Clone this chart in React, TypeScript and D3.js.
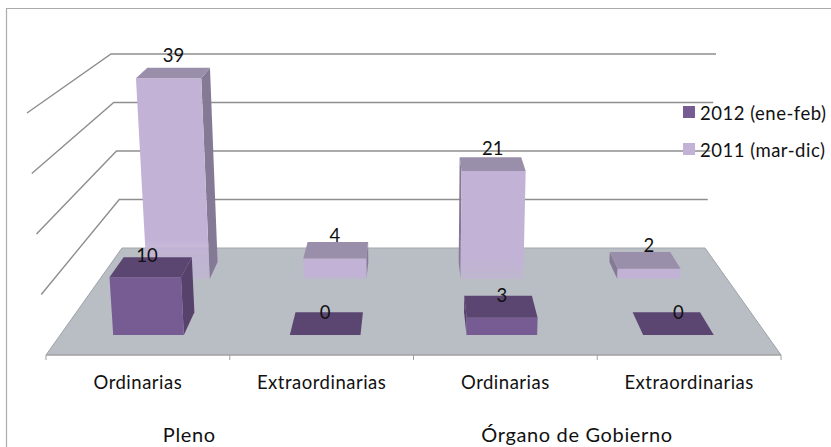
import React from "react";
import * as d3 from "d3";

const categories = ["Ordinarias", "Extraordinarias", "Ordinarias", "Extraordinarias"];
const groups = ["Pleno", "Órgano de Gobierno"];
const values2012 = [10, 0, 3, 0];
const values2011 = [39, 4, 21, 2];
const gridValues = [10, 20, 30, 40];
const legendItems = ["2012 (ene-feb)", "2011 (mar-dic)"];

const W = 831;
const H = 447;
const FONT = "Lato, Carlito, Calibri, sans-serif";
const CX = 413.5;
const GROUP_AT = [0.78, 2.89]; // label centres along the category axis

const depthY = d3.scaleLinear().domain([0, 1]).range([355, 248]);
const halfW = d3.scaleLinear().domain([0, 1]).range([367.5, 291.5]);
const spread = d3.scaleLinear().domain([0, 1]).range([0.475, 0.275]);
const invScale = d3.scaleLinear().domain([0, 1]).range([1 / 6.05, 1 / 4.85]);

// category coordinate + value + screen-depth -> pixel
function project(cat: number, v: number, t: number): [number, number] {
  const hw = halfW(t) + v * spread(t);
  const x = d3.scaleLinear().domain([0, 4]).range([CX - hw, CX + hw])(cat);
  const y = depthY(t) - v / invScale(t);
  return [x, y];
}
const poly = d3.line();
const path = (pts: [number, number][]) => poly(pts) + "Z";

const BAR_X0 = 0.3;
const BAR_X1 = 0.7;
const rows = [
  {
    name: "2011", values: values2011, t0: 0.71, t1: 0.87,
    front: "#C2B2D6", top: "#9A8FAB", side: "#857A96", lift: (v: number) => 6 + 0.15 * v,
    fill: "url(#fade2011)",
  },
  {
    name: "2012", values: values2012, t0: 0.187, t1: 0.4,
    front: "#765C92", top: "#5B4672", side: "#56426B", lift: (v: number) => 0.2 * v,
    fill: "#765C92",
  },
];

function Bar({ i, v, row }: { i: number; v: number; row: (typeof rows)[number] }) {
  const a = i + BAR_X0;
  const b = i + BAR_X1;
  const { t0, t1 } = row;
  const fl0 = project(a, 0, t0), fr0 = project(b, 0, t0);
  const bl0 = project(a, 0, t1), br0 = project(b, 0, t1);
  const flv = project(a, v, t0), frv = project(b, v, t0);
  const blv = project(a, v, t1), brv = project(b, v, t1);
  const showLeft = v > 0 && blv[0] < flv[0];
  const showRight = v > 0 && brv[0] > frv[0];
  return (
    <g>
      {showLeft && <path d={path([fl0, flv, blv, bl0])} fill={row.side} />}
      {showRight && <path d={path([fr0, frv, brv, br0])} fill={row.side} />}
      {v > 0 && <path d={path([fl0, fr0, frv, flv])} fill={row.fill} />}
      <path d={path([flv, frv, brv, blv])} fill={row.top} />
    </g>
  );
}

const labelStyle = { fontSize: 18.5, fill: "#111" };

export default function App() {
  const floor = [project(0, 0, 0), project(4, 0, 0), project(4, 0, 1), project(0, 0, 1)] as [number, number][];
  const ticks = d3.range(0, 5);
  return (
    <svg width={W} height={H} viewBox={`0 0 ${W} ${H}`}
      style={{ position: "absolute", left: 0, top: 0, background: "#fff", fontFamily: FONT }}>
      <defs>
        <linearGradient id="fade2011" x1="0" y1="0" x2="0" y2="1">
          <stop offset="0.8" stopColor="#C2B2D6" />
          <stop offset="1" stopColor="#C2B2D6" stopOpacity={0.55} />
        </linearGradient>
      </defs>
      <path d={`M6.5 ${H}V8.5H${W}`} fill="none" stroke="#ABABAB" strokeWidth={1.2} />

      {gridValues.map((v) => {
        const pts = [project(0, v, 0), project(0, v, 1), project(4, v, 1)] as [number, number][];
        return <path key={v} d={poly(pts)!} fill="none" stroke="#8E8E8E" strokeWidth={1.4} />;
      })}

      <path d={path(floor)} fill="#B9BEC5" />
      <path d={poly([floor[3], floor[2]])!} stroke="#A3A7AD" strokeWidth={1} fill="none" />
      <path d={poly([floor[1], floor[2]])!} stroke="#9EA2A8" strokeWidth={1} fill="none" />
      <path d={poly([floor[0], floor[3]])!} stroke="#9EA2A8" strokeWidth={1} fill="none" />
      <path d={poly([floor[0], floor[1]])!} stroke="#A0A0A0" strokeWidth={1.4} fill="none" />
      {ticks.map((c) => {
        const [x, y] = project(c, 0, 0);
        return <line key={c} x1={x} x2={x} y1={y} y2={y + 5} stroke="#A0A0A0" strokeWidth={1} />;
      })}

      {rows.map((row) =>
        row.values.map((v, i) => <Bar key={row.name + i} i={i} v={v} row={row} />)
      )}

      {rows.map((row) =>
        row.values.map((v, i) => {
          const x = project(i + 0.5, v / 2, row.t0)[0];
          const y = project(i + 0.5, v, row.t1)[1] - row.lift(v);
          return (
            <text key={row.name + i} x={x} y={y} dy="0.35em" textAnchor="middle" {...labelStyle}>{v}</text>
          );
        })
      )}

      {categories.map((c, i) => (
        <text key={i} x={project(i + 0.5, 0, 0)[0]} y={383} dy="0.35em" textAnchor="middle" letterSpacing={0.5} {...labelStyle}>{c}</text>
      ))}
      {groups.map((g, i) => (
        <text key={g} x={project(GROUP_AT[i], 0, 0)[0]} y={434.5} dy="0.35em" textAnchor="middle" fontSize={20} letterSpacing={0.65} fill="#111">{g}</text>
      ))}

      {legendItems.map((l, i) => {
        const y = d3.scaleLinear().domain([0, 1]).range([112, 149])(i);
        return (
          <g key={l}>
            <rect x={683} y={y - 6} width={12} height={12} fill={i === 0 ? rows[1].front : rows[0].front} />
            <text x={700} y={y + 1.5} dy="0.35em" letterSpacing={0.5} {...labelStyle}>{l}</text>
          </g>
        );
      })}
    </svg>
  );
}
